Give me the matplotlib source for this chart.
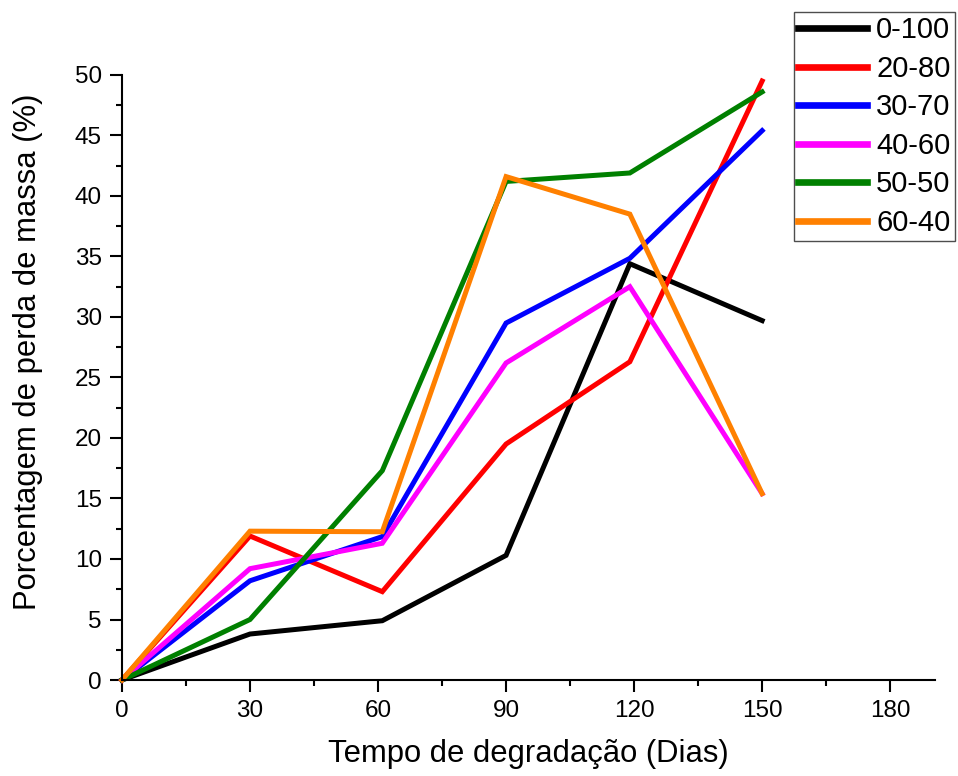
import matplotlib
matplotlib.use("Agg")
import matplotlib.pyplot as plt
from matplotlib.ticker import MultipleLocator

plt.rcParams['font.family'] = ['Liberation Sans', 'DejaVu Sans']

days = [0, 30, 61, 90, 119, 150]
labels = ["0-100", "20-80", "30-70", "40-60", "50-50", "60-40"]
s_0_100 = [0, 3.8, 4.9, 10.3, 34.4, 29.7]
s_20_80 = [0, 11.9, 7.3, 19.5, 26.3, 49.5]
s_30_70 = [0, 8.2, 11.85, 29.5, 34.85, 45.4]
s_40_60 = [0, 9.2, 11.3, 26.2, 32.5, 15.4]
s_50_50 = [0, 5.0, 17.3, 41.2, 41.9, 48.6]
s_60_40 = [0, 12.3, 12.25, 41.6, 38.5, 15.4]
series = [s_0_100, s_20_80, s_30_70, s_40_60, s_50_50, s_60_40]
colors = ["#000000", "#ff0000", "#0000ff", "#ff00ff", "#008000", "#ff8000"]

fig = plt.figure(figsize=(9.58, 7.76), dpi=100)
ax = fig.add_axes([0.1273, 0.1237, 0.8487, 0.7797])

for s, c, l in zip(series, colors, labels):
    ax.plot(days, s, color=c, lw=3.6, label=l, solid_joinstyle='miter', clip_on=False)

ax.set_xlim(0, 190.5)
ax.set_ylim(0, 50)
ax.spines['top'].set_visible(False)
ax.spines['right'].set_visible(False)
for sp in ['left', 'bottom']:
    ax.spines[sp].set_linewidth(1.5)
ax.xaxis.set_major_locator(MultipleLocator(30))
ax.xaxis.set_minor_locator(MultipleLocator(15))
ax.yaxis.set_major_locator(MultipleLocator(5))
ax.yaxis.set_minor_locator(MultipleLocator(2.5))
ax.tick_params(which='major', direction='out', length=8.5, width=1.5, labelsize=17.5, pad=6)
ax.tick_params(which='minor', direction='out', length=4.3, width=1.5)
ax.set_xlabel("Tempo de degradação (Dias)", fontsize=22.3)
ax.set_ylabel("Porcentagem de perda de massa (%)", fontsize=22.3)
ax.xaxis.set_label_coords(0.5, -0.0975)
ax.yaxis.set_label_coords(-0.0966, 0.543)

leg = ax.legend(loc='upper right', bbox_to_anchor=(0.9969, 0.9845), bbox_transform=fig.transFigure,
                fontsize=21, frameon=True, fancybox=False, edgecolor='#222222',
                handlelength=2.35, handletextpad=0.33, labelspacing=0.36, borderpad=0.15,
                borderaxespad=0)
leg.get_frame().set_linewidth(1.0)
for h in leg.get_lines():
    h.set_linewidth(4.8)

fig.savefig("out.png", dpi=100)
